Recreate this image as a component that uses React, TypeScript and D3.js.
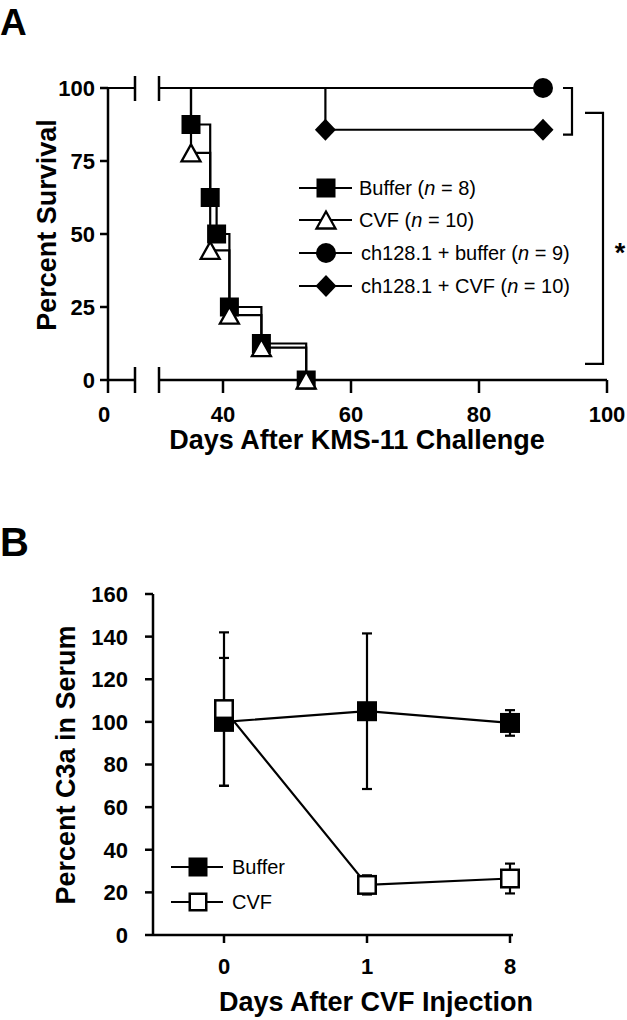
import React from 'react';
import * as d3 from 'd3';

// ---------- Panel A data (Kaplan-Meier) ----------
const survYTicks = [0, 25, 50, 75, 100];
const survXTicksLeft = [0];
const survXTicksRight = [40, 60, 80, 100];

const bufferTimes = [0, 35, 38, 39, 41, 46, 53];
const bufferSurv = [100, 87.5, 62.5, 50, 25, 12.5, 0];
const cvfTimes = [0, 35, 38, 41, 46, 53];
const cvfSurv = [100, 77.8, 44.4, 22.2, 11.1, 0];
const chBufTimes = [0, 90];
const chBufSurv = [100, 100];
const chCvfTimes = [0, 56, 90];
const chCvfSurv = [100, 85.7, 85.7];

const survLabels = ['Buffer', 'CVF', 'ch128.1 + buffer', 'ch128.1 + CVF'];
const survN = [8, 10, 9, 10];

// ---------- Panel B data ----------
const c3aDays = ['0', '1', '8'];
const c3aYTicks = [0, 20, 40, 60, 80, 100, 120, 140, 160];
const bufferC3a = [100, 105, 99.5];
const bufferC3aErr = [30, 36.5, 6];
const cvfC3a = [106, 23.5, 26.5];
const cvfC3aErr = [36, 4.5, 7];
const c3aLabels = ['Buffer', 'CVF'];

const FONT = '"Liberation Sans", Arial, Helvetica, sans-serif';

// scales panel A
const yA = d3.scaleLinear().domain([0, 100]).range([380, 88]);
const LEFT_MAX = 4.2;
const RIGHT_MIN = 30;
const xALeft = d3.scaleLinear().domain([0, LEFT_MAX]).range([108, 135]);
const xARight = d3.scaleLinear().domain([RIGHT_MIN, 100]).range([159, 607]);
const xA = (t: number) => (t <= LEFT_MAX ? xALeft(t) : xARight(t));

// scales panel B
const yB = d3.scaleLinear().domain([0, 160]).range([935, 594]);
const xB = d3.scalePoint<string>().domain(c3aDays).range([224, 510]);

function kmPath(times: number[], surv: number[]): string {
  const pts: [number, number][] = [[times[0], surv[0]]];
  for (let i = 1; i < times.length; i++) {
    pts.push([times[i], surv[i - 1]]);
    pts.push([times[i], surv[i]]);
  }
  let d = `M${xA(pts[0][0])},${yA(pts[0][1])}`;
  for (let i = 1; i < pts.length; i++) {
    const [t0, s0] = pts[i - 1];
    const [t1, s1] = pts[i];
    if (t0 <= LEFT_MAX && t1 >= RIGHT_MIN) {
      d += `L${xALeft.range()[1]},${yA(s0)}M${xARight.range()[0]},${yA(s0)}L${xA(t1)},${yA(s1)}`;
    } else {
      d += `L${xA(t1)},${yA(s1)}`;
    }
  }
  return d;
}

type Shape = 'square' | 'triangle' | 'circle' | 'diamond' | 'osquare';

function Marker({ x, y, shape, size = 19 }: { x: number; y: number; shape: Shape; size?: number }) {
  const h = size / 2;
  if (shape === 'square')
    return <rect x={x - h} y={y - h} width={size} height={size} fill="#000" />;
  if (shape === 'osquare')
    return (
      <rect x={x - h + 1.25} y={y - h + 1.25} width={size - 2.5} height={size - 2.5} fill="#fff" stroke="#000" strokeWidth={2.5} />
    );
  if (shape === 'triangle')
    return (
      <polygon
        points={`${x},${y - 8.5} ${x - 9.5},${y + 8.5} ${x + 9.5},${y + 8.5}`}
        fill="#fff"
        stroke="#000"
        strokeWidth={2.3}
        strokeLinejoin="miter"
      />
    );
  if (shape === 'circle') return <circle cx={x} cy={y} r={10} fill="#000" />;
  return <polygon points={`${x},${y - 11} ${x + 10.5},${y} ${x},${y + 11} ${x - 10.5},${y}`} fill="#000" />;
}

export default function App() {
  const series = [
    { times: bufferTimes, surv: bufferSurv, shape: 'square' as Shape },
    { times: cvfTimes, surv: cvfSurv, shape: 'triangle' as Shape },
    { times: chBufTimes, surv: chBufSurv, shape: 'circle' as Shape },
    { times: chCvfTimes, surv: chCvfSurv, shape: 'diamond' as Shape },
  ];
  const legendY = [188, 220, 253, 286];
  const legendShapes: Shape[] = ['square', 'triangle', 'circle', 'diamond'];

  const bSeries = [
    { vals: bufferC3a, err: bufferC3aErr, shape: 'square' as Shape },
    { vals: cvfC3a, err: cvfC3aErr, shape: 'osquare' as Shape },
  ];
  const bLegendY = [867, 902];
  const bLegendShapes: Shape[] = ['square', 'osquare'];

  const axisY = yA(0);
  const topY = yA(100);
  const sw = 2.5;

  return (
    <svg
      width={627}
      height={1020}
      style={{ position: 'absolute', left: 0, top: 0, background: '#fff' }}
      fontFamily={FONT}
    >
      <rect x={0} y={0} width={627} height={1020} fill="#fff" />
      {/* Panel letters */}
      <text x={0} y={35} fontSize={37} fontWeight="bold">A</text>
      <text x={0} y={556} fontSize={40} fontWeight="bold">B</text>

      {/* ===== Panel A ===== */}
      <g stroke="#000" strokeWidth={sw} fill="none">
        <line x1={108} y1={topY} x2={108} y2={axisY} />
        <line x1={108} y1={axisY} x2={xALeft.range()[1]} y2={axisY} />
        <line x1={xARight.range()[0]} y1={axisY} x2={xARight.range()[1]} y2={axisY} />
        {/* break marks */}
        {[xALeft.range()[1], xARight.range()[0]].map((bx, i) => (
          <g key={i}>
            <line x1={bx} y1={axisY - 13} x2={bx} y2={axisY + 13} />
            <line x1={bx} y1={topY - 12} x2={bx} y2={topY + 13} />
          </g>
        ))}
        {survYTicks.map((v) => (
          <line key={v} x1={100} y1={yA(v)} x2={108} y2={yA(v)} />
        ))}
        {survXTicksLeft.concat(survXTicksRight).map((v) => (
          <line key={v} x1={xA(v)} y1={axisY} x2={xA(v)} y2={axisY + 13} />
        ))}
      </g>
      {survYTicks.map((v) => (
        <text key={v} x={95} y={yA(v)} dy="0.36em" textAnchor="end" fontSize={22} fontWeight="bold">
          {v}
        </text>
      ))}
      {survXTicksLeft.concat(survXTicksRight).map((v) => (
        <text key={v} x={v === 0 ? xA(v) - 4 : xA(v)} y={422} textAnchor="middle" fontSize={22} fontWeight="bold">
          {v}
        </text>
      ))}
      <text
        transform={`translate(56,225) rotate(-90)`}
        textAnchor="middle"
        fontSize={27}
        fontWeight="bold"
      >
        Percent Survival
      </text>
      <text x={357} y={449} textAnchor="middle" fontSize={27} fontWeight="bold">
        Days After KMS-11 Challenge
      </text>

      {/* KM curves */}
      {series.map((s, i) => (
        <path key={i} d={kmPath(s.times, s.surv)} fill="none" stroke="#000" strokeWidth={2.2} />
      ))}
      {series.map((s, i) =>
        s.times.slice(1).map((t, j) => (
          <Marker key={`${i}-${j}`} x={xA(t)} y={yA(s.surv[j + 1])} shape={s.shape} />
        ))
      )}

      {/* legend A */}
      {survLabels.map((lab, i) => (
        <g key={lab}>
          <line x1={299} y1={legendY[i]} x2={352} y2={legendY[i]} stroke="#000" strokeWidth={2.2} />
          <Marker x={326} y={legendY[i]} shape={legendShapes[i]} />
          <text x={i >= 2 ? 361 : 359} y={legendY[i] + 7} fontSize={20}>
            {lab} (<tspan fontStyle="italic">n</tspan> = {survN[i]})
          </text>
        </g>
      ))}

      {/* significance brackets */}
      <g stroke="#000" strokeWidth={2.2} fill="none">
        <path d={`M563,${yA(100)}H572V${yA(84)}H563`} />
        <path d={`M585,${yA(91.5)}H603V${yA(5.5)}H585`} />
      </g>
      <text x={620} y={262} textAnchor="middle" fontSize={27} fontWeight="bold">*</text>

      {/* ===== Panel B ===== */}
      <g stroke="#000" strokeWidth={sw} fill="none">
        <line x1={153} y1={yB(160)} x2={153} y2={yB(0)} />
        <line x1={153} y1={yB(0)} x2={513} y2={yB(0)} />
        {c3aYTicks.map((v) => (
          <line key={v} x1={145} y1={yB(v)} x2={153} y2={yB(v)} />
        ))}
        {c3aDays.map((d) => (
          <line key={d} x1={xB(d)!} y1={yB(0)} x2={xB(d)!} y2={yB(0) + 8} />
        ))}
      </g>
      {c3aYTicks.map((v) => (
        <text key={v} x={128} y={yB(v)} dy="0.36em" textAnchor="end" fontSize={22} fontWeight="bold">
          {v}
        </text>
      ))}
      {c3aDays.map((d) => (
        <text key={d} x={xB(d)!} y={974} textAnchor="middle" fontSize={22} fontWeight="bold">
          {d}
        </text>
      ))}
      <text transform={`translate(75,765) rotate(-90)`} textAnchor="middle" fontSize={27} fontWeight="bold">
        Percent C3a in Serum
      </text>
      <text x={376} y={1011} textAnchor="middle" fontSize={27} fontWeight="bold">
        Days After CVF Injection
      </text>

      {/* error bars */}
      <g stroke="#000" strokeWidth={2.2}>
        {bSeries.map((s, i) =>
          s.vals.map((v, j) => {
            const x = xB(c3aDays[j])!;
            const lo = yB(v - s.err[j]);
            const hi = yB(v + s.err[j]);
            return (
              <g key={`${i}-${j}`}>
                <line x1={x} y1={lo} x2={x} y2={hi} />
                <line x1={x - 5} y1={lo} x2={x + 5} y2={lo} />
                <line x1={x - 5} y1={hi} x2={x + 5} y2={hi} />
              </g>
            );
          })
        )}
      </g>
      {bSeries.map((s, i) => {
        const line = d3
          .line<number>()
          .x((_, j) => xB(c3aDays[j])!)
          .y((v) => yB(v));
        return <path key={i} d={line(s.vals) || ''} fill="none" stroke="#000" strokeWidth={2.2} />;
      })}
      {bSeries.map((s, i) =>
        s.vals.map((v, j) => (
          <Marker key={`${i}-${j}`} x={xB(c3aDays[j])!} y={yB(v)} shape={s.shape} size={20} />
        ))
      )}

      {/* legend B */}
      {c3aLabels.map((lab, i) => (
        <g key={lab}>
          <line x1={171} y1={bLegendY[i]} x2={223} y2={bLegendY[i]} stroke="#000" strokeWidth={2.2} />
          <Marker x={198} y={bLegendY[i]} shape={bLegendShapes[i]} size={19} />
          <text x={232} y={bLegendY[i] + 7} fontSize={20}>
            {lab}
          </text>
        </g>
      ))}
    </svg>
  );
}
